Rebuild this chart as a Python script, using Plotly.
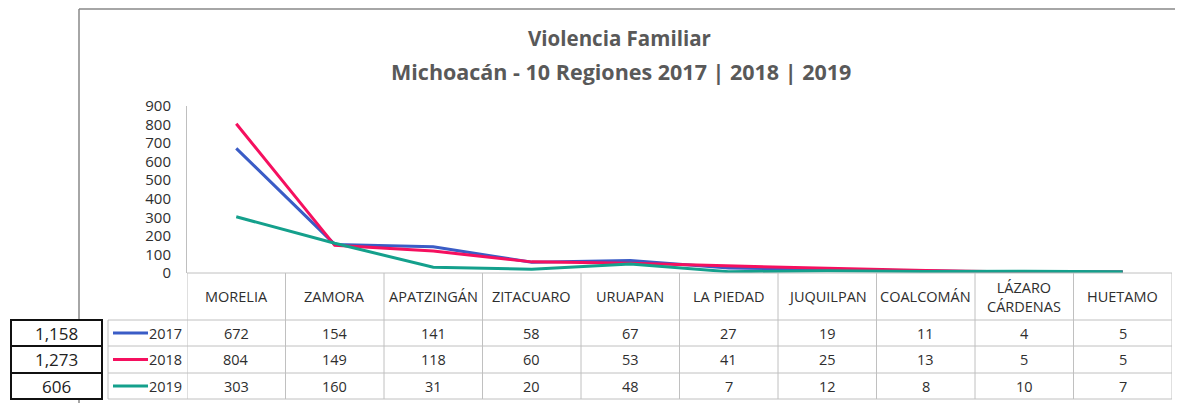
import plotly.graph_objects as go

# ---------------- data ----------------
regions = ["MORELIA", "ZAMORA", "APATZINGÁN", "ZITACUARO", "URUAPAN",
           "LA PIEDAD", "JUQUILPAN", "COALCOMÁN", "LÁZARO<br>CÁRDENAS", "HUETAMO"]
years = ["2017", "2018", "2019"]
v2017 = [672, 154, 141, 58, 67, 27, 19, 11, 4, 5]
v2018 = [804, 149, 118, 60, 53, 41, 25, 13, 5, 5]
v2019 = [303, 160, 31, 20, 48, 7, 12, 8, 10, 7]
totals = ["1,158", "1,273", "606"]
y_ticks = [0, 100, 200, 300, 400, 500, 600, 700, 800, 900]
title_1 = "Violencia Familiar"
title_2 = "Michoacán - 10 Regiones 2017 | 2018 | 2019"

series = [v2017, v2018, v2019]
colors = ["#3a5cc6", "#f5105f", "#14a08c"]

# ---------------- layout geometry ----------------
# the page body adds an 8px offset; all screen coordinates below are page pixels
OFF = 8
W, H = 1183 - OFF, 403 - OFF
PLOT_L, PLOT_R, PLOT_T, PLOT_B = 187, 1172, 106, 273   # page pixels
L, R, T, B = PLOT_L - OFF, (W + OFF) - PLOT_R, PLOT_T - OFF, (H + OFF) - PLOT_B
PW, PH = W - L - R, H - T - B
FONT = "Open Sans"
TXT = "#2e2e2e"
GRID = "#c0c0c0"


def py(p):
    return (PLOT_B - p) / PH


def px(p):
    return (p - PLOT_L) / PW


fig = go.Figure()
x_idx = list(range(len(regions)))
for yr, vals, col in zip(years, series, colors):
    fig.add_trace(go.Scatter(x=x_idx, y=vals, mode="lines", name=yr,
                             line=dict(color=col, width=3), showlegend=False))

shapes = []
annotations = []

# outer chart frame
shapes.append(dict(type="line", xref="paper", yref="paper", x0=px(79), x1=px(1190),
                   y0=py(9), y1=py(9), line=dict(color="#888888", width=1.5)))
shapes.append(dict(type="line", xref="paper", yref="paper", x0=px(79), x1=px(79),
                   y0=py(9), y1=py(410), line=dict(color="#888888", width=1.5)))

# table geometry (page pixel rows)
row_edges = [273, 320, 346, 373, 399]
header_mid = (row_edges[0] + row_edges[1]) / 2
row_mids = [(row_edges[i] + row_edges[i + 1]) / 2 for i in range(1, 4)]

# vertical grid lines of table (between categories)
for k in range(len(regions) + 1):
    shapes.append(dict(type="line", xref="x", yref="paper", x0=k - 0.5, x1=k - 0.5,
                       y0=py(row_edges[0]), y1=py(row_edges[-1]),
                       line=dict(color=GRID, width=1)))
# horizontal lines of table
for i, e in enumerate(row_edges):
    x0 = px(108) if i >= 1 else 0
    shapes.append(dict(type="line", xref="paper", yref="paper", x0=x0, x1=1,
                       y0=py(e), y1=py(e), line=dict(color=GRID, width=1)))
# key column left border
shapes.append(dict(type="line", xref="paper", yref="paper", x0=px(108), x1=px(108),
                   y0=py(row_edges[1]), y1=py(row_edges[-1]),
                   line=dict(color=GRID, width=1)))

# header labels
for k, reg in enumerate(regions):
    annotations.append(dict(x=k, y=py(header_mid), xref="x", yref="paper",
                            text=reg, showarrow=False,
                            font=dict(family=FONT, size=14.5, color=TXT),
                            xanchor="center", yanchor="middle"))

# rows: keys, values, totals
for r, (yr, vals, col, tot) in enumerate(zip(years, series, colors, totals)):
    ym = row_mids[r]
    shapes.append(dict(type="line", xref="paper", yref="paper", x0=px(113), x1=px(148),
                       y0=py(ym), y1=py(ym), line=dict(color=col, width=3)))
    annotations.append(dict(x=px(184), y=py(ym), xref="paper", yref="paper",
                            text=yr, showarrow=False,
                            font=dict(family=FONT, size=14.5, color=TXT),
                            xanchor="right", yanchor="middle"))
    for k, v in enumerate(vals):
        annotations.append(dict(x=k, y=py(ym), xref="x", yref="paper",
                                text=str(v), showarrow=False,
                                font=dict(family=FONT, size=14.5, color=TXT),
                                xanchor="center", yanchor="middle"))
    # totals boxes
    shapes.append(dict(type="rect", xref="paper", yref="paper", x0=px(11), x1=px(102),
                       y0=py(row_edges[r + 1]), y1=py(row_edges[r + 2]),
                       line=dict(color="#111111", width=2), fillcolor="white"))
    annotations.append(dict(x=px(56), y=py(ym), xref="paper", yref="paper",
                            text=tot, showarrow=False,
                            font=dict(family=FONT, size=17, color="#222222"),
                            xanchor="center", yanchor="middle"))

# titles
annotations.append(dict(x=px(619), y=py(38), xref="paper", yref="paper",
                        text="<b>" + title_1 + "</b>", showarrow=False,
                        font=dict(family=FONT, size=20.5, color="#595959"),
                        xanchor="center", yanchor="middle"))
annotations.append(dict(x=px(621), y=py(72), xref="paper", yref="paper",
                        text="<b>" + title_2 + "</b>", showarrow=False,
                        font=dict(family=FONT, size=21.5, color="#595959"),
                        xanchor="center", yanchor="middle"))

fig.update_layout(
    width=W, height=H,
    margin=dict(l=L, r=R, t=T, b=B, autoexpand=False),
    paper_bgcolor="white", plot_bgcolor="white",
    shapes=shapes, annotations=annotations,
    xaxis=dict(range=[-0.5, len(regions) - 0.5], showticklabels=False, showgrid=False,
               zeroline=False, showline=False, fixedrange=True),
    yaxis=dict(range=[0, 900], tickvals=y_ticks, showgrid=False, zeroline=False,
               showline=True, linecolor="#bfbfbf", linewidth=1,
               ticks="outside", ticklen=12, tickcolor="rgba(0,0,0,0)",
               tickfont=dict(family=FONT, size=15, color=TXT), fixedrange=True),
)

fig.write_html("out.html")
